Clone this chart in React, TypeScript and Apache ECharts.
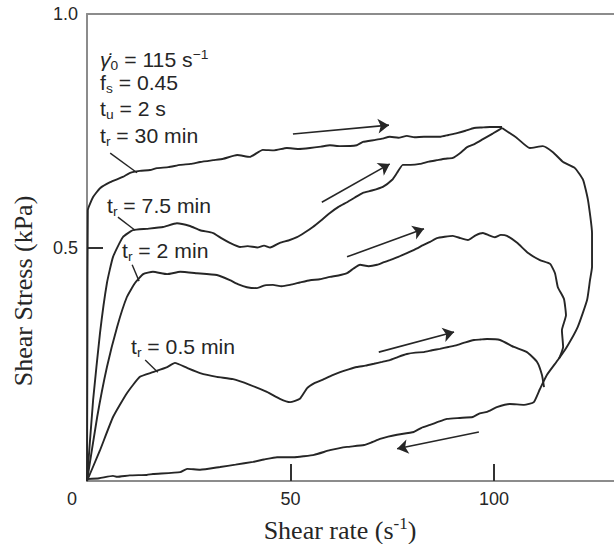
import React, { useEffect, useRef } from "react";
import * as echarts from "echarts";

// ---- data (shear rate s^-1, shear stress kPa) ----
const xTickValues = [50, 100];
const yTickValues = [0.5, 1.0];

const curve30min: [number, number][] = [
  [0, 0], [0.1, 0.3], [0.2, 0.58], [1.5, 0.608], [3.2, 0.627], [5.7, 0.64], [8.8, 0.651],
  [10.6, 0.66], [13.0, 0.664], [15.5, 0.666], [17.2, 0.67], [20.0, 0.672], [22.9, 0.677],
  [25.5, 0.679], [27.8, 0.683], [31.0, 0.687], [33.5, 0.69], [36.9, 0.698], [40.0, 0.694],
  [43.2, 0.709], [46.0, 0.708], [49.1, 0.713], [52.0, 0.711], [54.8, 0.713], [57.5, 0.716],
  [59.7, 0.719], [62.2, 0.717], [66.3, 0.719], [67.8, 0.726], [70.5, 0.73], [72.5, 0.733],
  [74.4, 0.737], [76.5, 0.735], [78.6, 0.739], [80.5, 0.736], [82.8, 0.737], [86.7, 0.737],
  [88.8, 0.741], [90.9, 0.745], [93.0, 0.75], [95.1, 0.756], [97.0, 0.757], [99.0, 0.758],
  [102.0, 0.758],
];

const curve7_5min: [number, number][] = [
  [0, 0], [1.5, 0.173], [3.2, 0.317], [4.9, 0.424], [6.4, 0.48], [8.8, 0.522], [11.3, 0.537],
  [14.7, 0.54], [18.7, 0.544], [22.1, 0.552], [25.3, 0.546], [27.8, 0.537], [31.0, 0.531],
  [33.0, 0.52], [35.1, 0.51], [37.6, 0.501], [39.5, 0.503], [41.8, 0.5], [43.5, 0.504],
  [45.0, 0.5], [47.4, 0.51], [49.5, 0.515], [51.6, 0.522], [53.5, 0.532], [55.5, 0.544],
  [57.5, 0.558], [59.7, 0.574], [61.8, 0.587], [63.9, 0.597], [65.8, 0.607], [67.8, 0.617],
  [70.0, 0.622], [72.7, 0.63], [75.0, 0.645], [76.2, 0.66], [77.6, 0.677], [79.5, 0.677],
  [81.8, 0.679], [84.0, 0.684], [86.0, 0.687], [88.0, 0.69], [89.9, 0.692], [91.8, 0.703],
  [93.4, 0.715], [95.3, 0.722], [97.3, 0.732], [99.7, 0.744], [102.0, 0.756],
];

const curve2min: [number, number][] = [
  [0, 0], [2.5, 0.137], [4.9, 0.244], [7.4, 0.33], [9.8, 0.394], [11.8, 0.424], [13.8, 0.443],
  [16.2, 0.448], [19.7, 0.443], [22.9, 0.448], [27.0, 0.445], [31.9, 0.441], [35.1, 0.43],
  [37.2, 0.421], [39.3, 0.415], [41.8, 0.413], [43.7, 0.419], [45.7, 0.42], [47.8, 0.417],
  [49.9, 0.42], [52.3, 0.425], [54.8, 0.43], [57.2, 0.432], [59.7, 0.437], [61.8, 0.44],
  [63.9, 0.445], [65.5, 0.455], [67.1, 0.463], [69.2, 0.46], [71.3, 0.463], [72.8, 0.468],
  [74.4, 0.473], [76.5, 0.48], [78.6, 0.488], [80.6, 0.496], [82.6, 0.505], [84.3, 0.512],
  [86.0, 0.52], [87.9, 0.523], [89.9, 0.525], [91.8, 0.52], [93.6, 0.516], [95.5, 0.526],
  [97.3, 0.531], [98.8, 0.526], [100.2, 0.522], [101.7, 0.527], [103.2, 0.525], [105.7, 0.51],
  [108.4, 0.488], [111.3, 0.473], [113.8, 0.465], [115.0, 0.445], [115.7, 0.415],
  [117.2, 0.39], [117.7, 0.355], [116.7, 0.323], [117.0, 0.287], [116.0, 0.262],
];

const curve0_5min: [number, number][] = [
  [0, 0], [3.2, 0.066], [6.4, 0.137], [9.8, 0.188], [13.0, 0.223], [16.2, 0.233],
  [19.7, 0.244], [21.6, 0.253], [24.6, 0.242], [27.8, 0.231], [31.9, 0.223], [35.9, 0.218],
  [40.0, 0.206], [44.2, 0.191], [47.4, 0.176], [49.9, 0.169], [52.3, 0.176], [54.1, 0.199],
  [56.0, 0.21], [58.2, 0.218], [60.2, 0.226], [62.2, 0.233], [64.3, 0.239], [66.3, 0.244],
  [68.4, 0.247], [70.5, 0.251], [72.5, 0.255], [74.4, 0.259], [76.5, 0.266], [78.6, 0.272],
  [80.7, 0.275], [82.8, 0.276], [84.8, 0.28], [86.7, 0.283], [88.8, 0.287], [90.9, 0.291],
  [93.0, 0.297], [95.1, 0.302], [96.7, 0.303], [98.3, 0.304], [101.5, 0.302], [104.9, 0.287],
  [108.1, 0.276], [110.6, 0.255], [111.8, 0.227], [112.3, 0.201],
];

const returnCurve: [number, number][] = [
  [102.0, 0.756], [105.7, 0.734], [108.8, 0.713], [112.0, 0.717], [114.5, 0.704],
  [117.0, 0.683], [119.9, 0.67], [121.9, 0.645], [123.1, 0.602], [124.1, 0.531],
  [124.1, 0.458], [123.6, 0.43], [122.9, 0.388], [120.6, 0.33], [117.9, 0.287],
  [115.7, 0.259], [113.0, 0.227], [111.3, 0.197], [109.8, 0.169], [107.4, 0.163],
  [103.9, 0.165], [100.7, 0.158], [98.3, 0.148], [96.5, 0.145], [94.8, 0.137], [91.6, 0.135],
  [88.5, 0.133], [86.4, 0.127], [84.3, 0.12], [82.2, 0.114], [80.3, 0.105], [76.2, 0.099],
  [74.0, 0.095], [72.0, 0.09], [70.0, 0.083], [68.1, 0.077], [63.9, 0.073], [61.8, 0.07],
  [59.7, 0.066], [55.8, 0.056], [53.2, 0.053], [50.9, 0.051], [46.7, 0.051], [43.5, 0.046],
  [40.8, 0.041], [36.5, 0.035], [32.7, 0.03], [27.8, 0.024], [24.6, 0.026], [22.9, 0.019],
  [16.2, 0.015], [14.7, 0.013], [10.5, 0.012], [7.4, 0.009], [6.4, 0.011], [3.0, 0.006],
  [0, 0.004],
];

const arrowLines: [number, number][][] = [
  [[50.6, 0.743], [74.2, 0.762]],
  [[57.7, 0.597], [74.4, 0.679]],
  [[63.9, 0.48], [82.8, 0.54]],
  [[71.7, 0.276], [90.2, 0.319]],
  [[96.3, 0.105], [76.2, 0.069]],
];

const leaderLines: [number, number][][] = [
  [[5.7, 0.702], [12.3, 0.66]],
  [[7.6, 0.565], [11.8, 0.537]],
  [[11.1, 0.463], [12.8, 0.428]],
  [[14.3, 0.259], [17.4, 0.233]],
];

const paramLabels = [
  "{g|γ̇}{sub|0}{a| = 115 s}{sup|−1}",
  "{a|f}{sub|s}{a| = 0.45}",
  "{a|t}{sub|u}{a| = 2 s}",
  "{a|t}{sub|r}{a| = 30 min}",
];
const curveLabels = [
  "{a|t}{sub|r}{a| = 7.5 min}",
  "{a|t}{sub|r}{a| = 2 min}",
  "{a|t}{sub|r}{a| = 0.5 min}",
];
const xTitle = "{t|Shear rate (s}{sup|-1}{t|)}";
const yTitle = "Shear Stress (kPa)";

// ---- styles ----
const SANS = "'Liberation Sans', Arial, sans-serif";
const SERIF = "'Liberation Serif', 'Times New Roman', serif";
const INK = "#262626";
const AXIS = "#8c8c8c";

const richSans = {
  a: { fontSize: 20, fontFamily: SANS, fill: INK, lineHeight: 24 },
  g: { fontSize: 20, fontFamily: SANS, fill: INK, lineHeight: 24, fontStyle: "italic" },
  sub: { fontSize: 13, fontFamily: SANS, fill: INK, lineHeight: 13, verticalAlign: "bottom" },
  sup: { fontSize: 13, fontFamily: SANS, fill: INK, lineHeight: 14, verticalAlign: "top" },
};

function buildOption() {
  const lineSeries = (data: [number, number][]) => ({
    type: "line",
    data,
    showSymbol: false,
    symbol: "none",
    smooth: 0.15,
    clip: false,
    lineStyle: { color: INK, width: 1.9 },
    silent: true,
  });

  const annot: any[] = [];
  const paramY = [60, 83, 109, 136];
  paramLabels.forEach((t, i) =>
    annot.push({
      type: "text",
      x: 100,
      y: paramY[i],
      scaleX: 1.06,
      style: { text: t, rich: richSans, textVerticalAlign: "middle", textAlign: "left" },
    })
  );
  const curvePos = [
    [107, 206],
    [122, 251],
    [131, 347],
  ];
  curveLabels.forEach((t, i) =>
    annot.push({
      type: "text",
      x: curvePos[i][0],
      y: curvePos[i][1],
      scaleX: 1.06,
      style: { text: t, rich: richSans, textVerticalAlign: "middle", textAlign: "left" },
    })
  );
  annot.push({
    type: "text",
    x: 77,
    y: 499,
    style: { text: "0", fontSize: 18, fontFamily: SANS, fill: INK, textAlign: "right", textVerticalAlign: "middle" },
  });
  annot.push({
    type: "text",
    x: 340,
    y: 530,
    style: {
      text: xTitle,
      textAlign: "center",
      textVerticalAlign: "middle",
      rich: {
        t: { fontSize: 26, fontFamily: SERIF, fill: INK, lineHeight: 30 },
        sup: { fontSize: 17, fontFamily: SERIF, fill: INK, lineHeight: 17, verticalAlign: "top" },
      },
    },
  });
  annot.push({
    type: "text",
    x: 23,
    y: 291,
    rotation: Math.PI / 2,
    style: {
      text: yTitle,
      fontSize: 26,
      fontFamily: SERIF,
      fill: INK,
      textAlign: "center",
      textVerticalAlign: "middle",
    },
  });

  return {
    animation: false,
    backgroundColor: "#ffffff",
    grid: { left: 87, top: 14, width: 527, height: 467, containLabel: false, outerBoundsMode: "none" },
    xAxis: [
      {
        type: "value",
        min: 0,
        max: 129.5,
        interval: 50,
        position: "bottom",
        axisLine: { show: true, onZero: false, lineStyle: { color: AXIS, width: 2 } },
        axisTick: { show: true, inside: true, length: 17, customValues: xTickValues, lineStyle: { color: "#333", width: 2 } },
        axisLabel: { show: true, customValues: xTickValues, margin: 9, fontSize: 18, fontFamily: SANS, color: INK },
        splitLine: { show: false },
      },
      {
        type: "value",
        min: 0,
        max: 129.5,
        position: "top",
        axisLine: { show: true, onZero: false, lineStyle: { color: AXIS, width: 2 } },
        axisTick: { show: false },
        axisLabel: { show: false },
        splitLine: { show: false },
      },
    ],
    yAxis: {
      type: "value",
      min: 0,
      max: 1,
      interval: 0.5,
      axisLine: { show: true, onZero: false, lineStyle: { color: AXIS, width: 2 } },
      axisTick: { show: true, inside: true, length: 16, customValues: [0.5], lineStyle: { color: "#333", width: 2 } },
      axisLabel: {
        show: true,
        customValues: yTickValues,
        margin: 9,
        fontSize: 18,
        fontFamily: SANS,
        color: INK,
        formatter: (v: number) => v.toFixed(1),
      },
      splitLine: { show: false },
    },
    series: [
      lineSeries(curve30min),
      lineSeries(curve7_5min),
      lineSeries(curve2min),
      lineSeries(curve0_5min),
      lineSeries(returnCurve),
      {
        type: "lines",
        coordinateSystem: "cartesian2d",
        symbol: ["none", "arrow"],
        symbolSize: 11,
        lineStyle: { color: INK, width: 1.6, opacity: 1 },
        data: arrowLines.map((c) => ({ coords: c })),
        silent: true,
      },
      {
        type: "lines",
        coordinateSystem: "cartesian2d",
        symbol: ["none", "none"],
        lineStyle: { color: INK, width: 1.4, opacity: 1 },
        data: leaderLines.map((c) => ({ coords: c })),
        silent: true,
      },
    ],
    graphic: annot,
  };
}

export default function App() {
  const ref = useRef<HTMLDivElement>(null);
  useEffect(() => {
    document.body.style.margin = "0";
    if (!ref.current) return;
    const chart = echarts.init(ref.current, null, { renderer: "svg" });
    chart.setOption(buildOption() as any);
    return () => chart.dispose();
  }, []);
  return <div ref={ref} style={{ width: 614, height: 544 }} />;
}
